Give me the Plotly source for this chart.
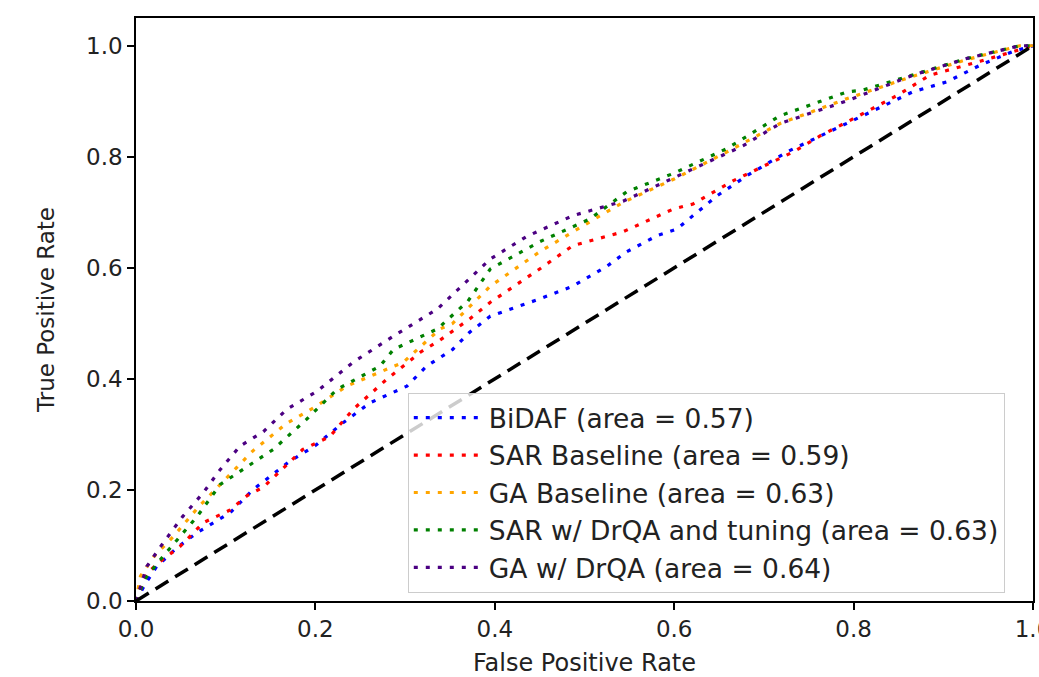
import plotly.graph_objects as go

# ---- data ----
bidaf_fpr = [0, 0.01, 0.023, 0.045, 0.068, 0.105, 0.13, 0.142, 0.17, 0.2, 0.23, 0.261, 0.302, 0.324, 0.353,
             0.372, 0.395, 0.45, 0.487, 0.525, 0.547, 0.581, 0.603, 0.648, 0.681, 0.726, 0.793, 0.866, 0.904,
             0.941, 0.978, 1.0]
bidaf_tpr = [0, 0.03, 0.062, 0.095, 0.123, 0.159, 0.2, 0.215, 0.25, 0.28, 0.32, 0.357, 0.387, 0.423, 0.453,
             0.484, 0.513, 0.544, 0.567, 0.603, 0.629, 0.658, 0.67, 0.73, 0.766, 0.809, 0.86, 0.917, 0.935,
             0.965, 0.99, 1.0]

sar_fpr = [0, 0.012, 0.03, 0.049, 0.075, 0.105, 0.124, 0.142, 0.186, 0.216, 0.242, 0.28, 0.317, 0.339, 0.372,
           0.395, 0.45, 0.487, 0.543, 0.599, 0.621, 0.666, 0.733, 0.763, 0.793, 0.848, 0.885, 0.941, 1.0]
sar_tpr = [0, 0.05, 0.075, 0.098, 0.141, 0.164, 0.19, 0.205, 0.273, 0.296, 0.345, 0.4, 0.448, 0.47, 0.508,
           0.538, 0.598, 0.64, 0.665, 0.706, 0.715, 0.757, 0.809, 0.838, 0.863, 0.91, 0.947, 0.972, 1.0]

ga_fpr = [0, 0.005, 0.02, 0.041, 0.07, 0.1, 0.13, 0.168, 0.2, 0.235, 0.298, 0.339, 0.353, 0.395, 0.45,
          0.506, 0.543, 0.6, 0.66, 0.718, 0.793, 0.866, 0.926, 0.985, 1.0]
ga_tpr = [0, 0.045, 0.08, 0.115, 0.17, 0.22, 0.27, 0.32, 0.35, 0.387, 0.43, 0.49, 0.5, 0.567, 0.629,
          0.683, 0.718, 0.76, 0.81, 0.86, 0.905, 0.945, 0.975, 1.0, 1.0]

sar_drqa_fpr = [0, 0.01, 0.03, 0.068, 0.094, 0.124, 0.153, 0.19, 0.224, 0.272, 0.287, 0.336, 0.37, 0.395,
                0.45, 0.506, 0.547, 0.599, 0.659, 0.718, 0.793, 0.81, 0.866, 0.926, 0.985, 1.0]
sar_drqa_tpr = [0, 0.04, 0.08, 0.152, 0.21, 0.242, 0.273, 0.327, 0.381, 0.423, 0.453, 0.49, 0.54, 0.598,
                0.647, 0.688, 0.737, 0.77, 0.815, 0.874, 0.917, 0.92, 0.947, 0.977, 1.0, 1.0]

ga_drqa_fpr = [0, 0.005, 0.012, 0.03, 0.052, 0.075, 0.094, 0.116, 0.142, 0.168, 0.202, 0.242, 0.287, 0.336,
               0.395, 0.436, 0.487, 0.543, 0.599, 0.677, 0.718, 0.793, 0.866, 0.926, 0.985, 1.0]
ga_drqa_tpr = [0, 0.025, 0.062, 0.104, 0.152, 0.195, 0.237, 0.279, 0.305, 0.345, 0.378, 0.43, 0.477, 0.526,
               0.616, 0.657, 0.694, 0.72, 0.762, 0.82, 0.86, 0.901, 0.947, 0.977, 1.0, 1.0]

chance_x = [0, 1]
chance_y = [0, 1]

tick_vals = [0.0, 0.2, 0.4, 0.6, 0.8, 1.0]
tick_text = ["0.0", "0.2", "0.4", "0.6", "0.8", "1.0"]

series_names = [
    "BiDAF (area = 0.57)",
    "SAR Baseline (area = 0.59)",
    "GA Baseline (area = 0.63)",
    "SAR w/ DrQA and tuning (area = 0.63)",
    "GA w/ DrQA (area = 0.64)",
]
series_colors = ["blue", "red", "orange", "green", "indigo"]
series_x = [bidaf_fpr, sar_fpr, ga_fpr, sar_drqa_fpr, ga_drqa_fpr]
series_y = [bidaf_tpr, sar_tpr, ga_tpr, sar_drqa_tpr, ga_drqa_tpr]

FONT = "DejaVu Sans"

fig = go.Figure()
for i, (name, col, xs, ys) in enumerate(zip(series_names, series_colors, series_x, series_y)):
    fig.add_trace(go.Scatter(
        x=xs, y=ys, mode="lines", name=name, legendgroup=f"g{i}",
        line=dict(color=col, width=3.2, dash="4px,8px"),
    ))

fig.add_trace(go.Scatter(
    x=chance_x, y=chance_y, mode="lines", showlegend=False,
    line=dict(color="black", width=3.5, dash="15px,8px"),
))

axis_common = dict(
    showline=True, linecolor="black", linewidth=1.5, mirror=True,
    ticks="outside", ticklen=7, tickwidth=1.5, tickcolor="black",
    showgrid=False, zeroline=False, automargin=False,
    tickfont=dict(family=FONT, size=23, color="#222"),
    tickvals=tick_vals, ticktext=tick_text, ticklabeloverflow="allow",
)

fig.update_layout(
    width=1039, height=677,
    margin=dict(l=136, r=6, t=18, b=76),
    paper_bgcolor="white", plot_bgcolor="white",
    font=dict(family=FONT, color="#222"),
    xaxis=dict(range=[0, 1.0], title=dict(text="False Positive Rate", font=dict(family=FONT, size=24), standoff=13),
               **axis_common),
    yaxis=dict(range=[0, 1.05], title=dict(text="True Positive Rate", font=dict(family=FONT, size=23), standoff=25),
               **axis_common),
    legend=dict(
        x=0.303, y=0.357, xanchor="left", yanchor="top",
        bgcolor="rgba(255,255,255,0.8)", bordercolor="#cccccc", borderwidth=1,
        font=dict(family=FONT, size=26.5, color="#222"),
        itemwidth=70, traceorder="grouped", tracegroupgap=0,
    ),
    showlegend=True,
)

fig.write_html(
    "out.html",
    config={"displayModeBar": False},
    post_script="document.body.style.margin='0';document.body.style.overflow='hidden';",
)
